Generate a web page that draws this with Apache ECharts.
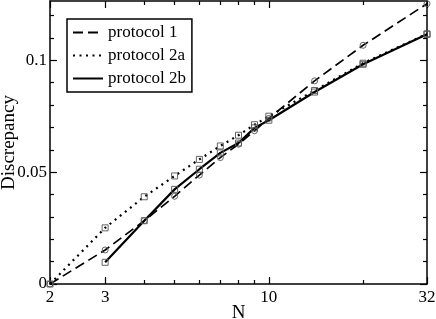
<!DOCTYPE html>
<html><head><meta charset="utf-8">
<script src="https://cdn.jsdelivr.net/npm/echarts@6/dist/echarts.min.js"></script>
<style>html,body{margin:0;padding:0;background:#fff}#c{width:436px;height:319px}</style>
</head><body><div id="c"></div>
<script>
var N = [2, 3, 4, 5, 6, 7, 8, 9, 10, 14, 20, 32];
var protocol1 = [0, 0.0152, 0.0283, 0.0392, 0.0487, 0.0565, 0.0625, 0.0685, 0.0740, 0.0908, 0.1067, 0.1253];
var protocol2a = [0, 0.0251, 0.0390, 0.0483, 0.0557, 0.0617, 0.0665, 0.0712, 0.0750, 0.0865, 0.0987, 0.1118];
var protocol2b = [null, 0.0097, 0.0283, 0.0423, 0.0513, 0.0586, 0.0630, 0.0698, 0.0732, 0.0858, 0.0982, 0.1116];
var xMajor = [2, 3, 10, 32];
var xMinor = [4, 5, 6, 7, 8, 9, 20];
var yMajor = [0, 0.05, 0.1];
var yMinor = [0.01, 0.02, 0.03, 0.04, 0.06, 0.07, 0.08, 0.09, 0.11, 0.12];

function pairs(xs, ys) {
  var out = [];
  for (var i = 0; i < xs.length; i++) if (ys[i] !== null) out.push([xs[i], ys[i]]);
  return out;
}
var FONT = 'Liberation Serif';
var lineC = '#000';
function xAx(pos, vals, len, showLine, labels) {
  return {
    type: 'log', logBase: 2, min: 2, max: 32, position: pos,
    axisLine: {show: showLine, onZero: false, lineStyle: {color: lineC, width: 1.5}},
    axisTick: {show: true, inside: true, length: len, customValues: vals, lineStyle: {color: lineC, width: 1.2}},
    axisLabel: labels ? {show: true, customValues: vals, color: '#000', fontFamily: FONT, fontSize: 17, margin: 5} : {show: false},
    splitLine: {show: false}, minorTick: {show: false}
  };
}
function yAx(pos, vals, len, showLine, labels) {
  return {
    type: 'value', min: 0, max: 0.1265, position: pos,
    axisLine: {show: showLine, onZero: false, lineStyle: {color: lineC, width: 1.5}},
    axisTick: {show: true, inside: true, length: len, customValues: vals, lineStyle: {color: lineC, width: 1.2}},
    axisLabel: labels ? {show: true, customValues: vals, color: '#000', fontFamily: FONT, fontSize: 17, margin: 3} : {show: false},
    splitLine: {show: false}
  };
}
var xAxes = [xAx('bottom', xMajor, 7, true, true), xAx('bottom', xMinor, 4, false, false), xAx('top', xMajor, 7, true, false), xAx('top', xMinor, 4, false, false)];
xAxes[0].name = 'N';
xAxes[0].nameLocation = 'middle';
xAxes[0].nameGap = 20;
xAxes[0].nameMoveOverlap = false;
xAxes[0].nameTextStyle = {color: '#000', fontFamily: FONT, fontSize: 19};
var yAxes = [yAx('left', yMajor, 7, true, true), yAx('left', yMinor, 4, false, false), yAx('right', yMajor, 7, true, false), yAx('right', yMinor, 4, false, false)];
yAxes[0].name = 'Discrepancy';
yAxes[0].nameLocation = 'middle';
yAxes[0].nameGap = 31;
yAxes[0].nameMoveOverlap = false;
yAxes[0].nameRotate = 90;
yAxes[0].nameTextStyle = {color: '#000', fontFamily: FONT, fontSize: 19};

var mk = {color: 'rgba(0,0,0,0)', borderColor: '#555', borderWidth: 0.9};
var chart = echarts.init(document.getElementById('c'), null, {renderer: 'canvas'});
chart.setOption({
  animation: false,
  backgroundColor: '#fff',
  grid: {left: 50, right: 9, top: 1, bottom: 35, containLabel: false, outerBoundsMode: 'none'},
  xAxis: xAxes,
  yAxis: yAxes,
  legend: {
    show: true, orient: 'vertical', left: 67, top: 19,
    padding: [5, 6, 5, 5], itemGap: 6, itemWidth: 30, itemHeight: 14,
    borderColor: '#000', borderWidth: 1.5, borderRadius: 0, backgroundColor: '#fff',
    textStyle: {color: '#000', fontFamily: FONT, fontSize: 17},
    itemStyle: {opacity: 0},
    data: ['protocol 1', 'protocol 2a', 'protocol 2b']
  },
  series: [
    {name: 'protocol 1', type: 'line', data: pairs(N, protocol1), symbol: 'circle', symbolSize: 6,
     itemStyle: mk, lineStyle: {color: '#000', width: 1.7, type: [10, 5]}, z: 3},
    {name: 'protocol 2a', type: 'line', data: pairs(N, protocol2a), symbol: 'rect', symbolSize: 6,
     itemStyle: mk, lineStyle: {color: '#000', width: 2.2, type: [2, 4.5]}, z: 3},
    {name: 'protocol 2b', type: 'line', data: pairs(N, protocol2b), symbol: 'rect', symbolSize: 6,
     itemStyle: mk, lineStyle: {color: '#000', width: 2.2, type: 'solid'}, z: 3}
  ]
});
</script></body></html>
